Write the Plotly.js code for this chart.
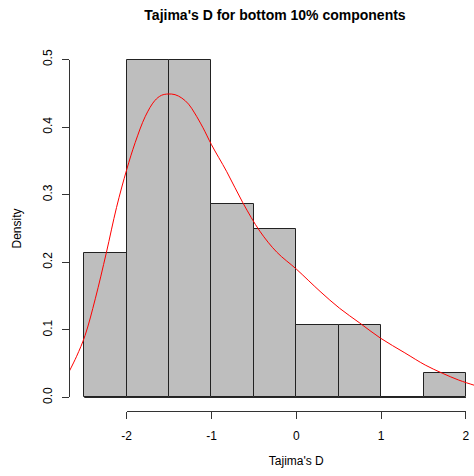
<!DOCTYPE html>
<html>
<head>
<meta charset="utf-8">
<script src="https://cdn.plot.ly/plotly-3.0.1.min.js"></script>
<style>html,body{margin:0;padding:0;background:#fff;}#chart{width:474px;height:476px;}</style>
</head>
<body>
<div id="chart"></div>
<script>
// Histogram breaks and densities
const breaks = [-2.5, -2, -1.5, -1, -0.5, 0, 0.5, 1, 1.5, 2];
const density = [0.2143, 0.5, 0.5, 0.2857, 0.25, 0.1071, 0.1071, 0, 0.0357];

// Fitted density curve
const curveX = [-2.68, -2.59, -2.49, -2.37, -2.24, -2.12, -2.0, -1.9, -1.78, -1.67, -1.59, -1.51, -1.43, -1.35, -1.27, -1.2, -1.1, -1.0, -0.82, -0.63, -0.43, -0.23, 0.0, 0.28, 0.51, 0.75, 0.99, 1.28, 1.52, 1.72, 1.91, 2.1, 2.18];
const curveY = [0.038, 0.061, 0.092, 0.146, 0.214, 0.281, 0.337, 0.377, 0.416, 0.439, 0.447, 0.449, 0.448, 0.443, 0.434, 0.421, 0.399, 0.374, 0.334, 0.288, 0.246, 0.215, 0.190, 0.157, 0.132, 0.110, 0.088, 0.066, 0.048, 0.036, 0.026, 0.018, 0.015];

const xTicks = [-2, -1, 0, 1, 2];
const yTicks = [0, 0.1, 0.2, 0.3, 0.4, 0.5];

const xRange = [-2.68, 2.095];
const yRange = [-0.02, 0.52];
const fx = v => (v - xRange[0]) / (xRange[1] - xRange[0]);
const fy = v => (v - yRange[0]) / (yRange[1] - yRange[0]);

const mids = [], widths = [];
for (let i = 0; i < density.length; i++) {
  mids.push((breaks[i] + breaks[i + 1]) / 2);
  widths.push(breaks[i + 1] - breaks[i]);
}

const FONT = 'Liberation Sans, Arial, Helvetica, sans-serif';

const traces = [
  {
    type: 'bar', x: mids, y: density, width: widths,
    marker: {color: '#bebebe', line: {color: '#222', width: 1}},
    hoverinfo: 'x+y', showlegend: false
  },
  {
    type: 'scatter', mode: 'lines',
    x: [breaks[0], breaks[breaks.length - 1]], y: [0, 0],
    line: {color: '#222', width: 1}, showlegend: false, hoverinfo: 'skip'
  },
  {
    type: 'scatter', mode: 'lines', x: curveX, y: curveY,
    line: {color: '#ff0000', width: 1, shape: 'spline', smoothing: 1},
    showlegend: false
  },
  {
    type: 'scatter', mode: 'markers', x: [], y: [], xaxis: 'x2', yaxis: 'y2',
    showlegend: false, hoverinfo: 'skip'
  }
];

const layout = {
  width: 474, height: 476,
  margin: {l: 69, r: 0, t: 46, b: 65, pad: 0},
  paper_bgcolor: '#ffffff', plot_bgcolor: 'rgba(0,0,0,0)',
  font: {family: FONT, size: 12, color: '#000'},
  showlegend: false,
  bargap: 0,
  title: {
    text: "Tajima's D for bottom 10% components",
    font: {family: FONT, size: 14, weight: 'bold', color: '#000'},
    xref: 'container', x: 275 / 474, xanchor: 'center',
    yref: 'container', y: 1 - 15 / 476, yanchor: 'middle'
  },
  xaxis: {range: xRange, visible: false, fixedrange: true},
  yaxis: {range: yRange, visible: false, fixedrange: true},
  xaxis2: {
    domain: [fx(xTicks[0]), fx(xTicks[xTicks.length - 1])],
    anchor: 'free', position: 0,
    range: [xTicks[0], xTicks[xTicks.length - 1]],
    tickvals: xTicks, ticktext: xTicks.map(String),
    ticks: 'outside', ticklen: 7, tickwidth: 1, tickcolor: '#333',
    showline: true, linecolor: '#333', linewidth: 1,
    showgrid: false, zeroline: false,
    tickfont: {family: FONT, size: 12, color: '#000'},
    ticklabelstandoff: 7,
    title: {text: "Tajima's D", font: {family: FONT, size: 12, color: '#000'}, standoff: 14},
    automargin: false
  },
  yaxis2: {
    domain: [fy(yTicks[0]), fy(yTicks[yTicks.length - 1])],
    anchor: 'free', position: 0,
    range: [yTicks[0], yTicks[yTicks.length - 1]],
    tickvals: yTicks, ticktext: yTicks.map(v => v.toFixed(1)),
    tickangle: -90,
    ticks: 'outside', ticklen: 7, tickwidth: 1, tickcolor: '#333',
    showline: true, linecolor: '#333', linewidth: 1,
    showgrid: false, zeroline: false,
    tickfont: {family: FONT, size: 12, color: '#000'},
    ticklabelstandoff: 5,
    title: {text: 'Density', font: {family: FONT, size: 12, color: '#000'}, standoff: 16},
    automargin: false
  }
};

Plotly.newPlot('chart', traces, layout, {displayModeBar: false});
</script>
</body>
</html>
